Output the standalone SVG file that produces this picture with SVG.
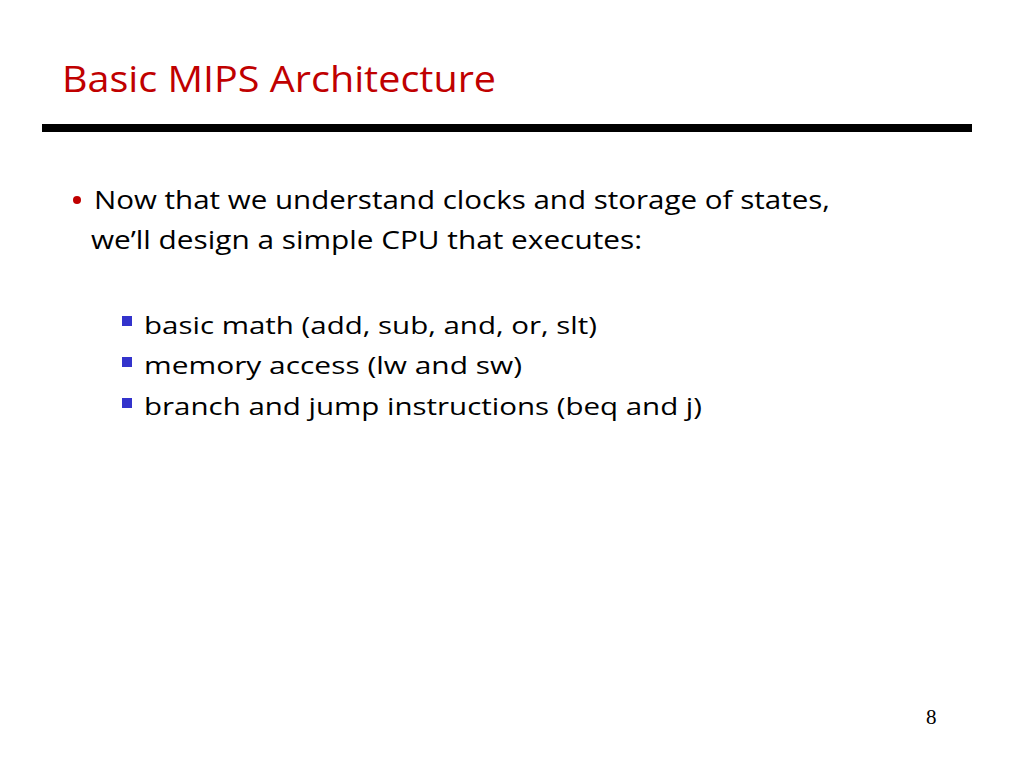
<svg xmlns="http://www.w3.org/2000/svg" width="1024" height="768" viewBox="0 0 1024 768">
<style>
.t{font-family:"Open Sans","Liberation Sans",sans-serif;fill:#000}
.title{font-size:36px;fill:#C00000}
.b1{font-size:25.5px}
.b2{font-size:23px}
.sq{fill:#3333CC}
</style>
<rect width="1024" height="768" fill="#fff"/>
<g id="title">
<text class="t title" x="62" y="92" textLength="434" lengthAdjust="spacingAndGlyphs">Basic MIPS Architecture</text>
</g>
<rect id="rule" x="42" y="124" width="930" height="8" fill="#000"/>
<g id="bullet1">
<circle cx="77" cy="200" r="4" fill="#C00000"/>
<text class="t b1" x="94" y="209" textLength="736" lengthAdjust="spacingAndGlyphs">Now that we understand clocks and storage of states,</text>
<text class="t b1" x="91" y="249" textLength="551" lengthAdjust="spacingAndGlyphs">we’ll design a simple CPU that executes:</text>
</g>
<g id="sub1">
<rect class="sq" x="122" y="316" width="10" height="10"/>
<text class="t b2" x="144" y="334" textLength="453" lengthAdjust="spacingAndGlyphs">basic math (add, sub, and, or, slt)</text>
</g>
<g id="sub2">
<rect class="sq" x="122" y="357" width="10" height="10"/>
<text class="t b2" x="144" y="374" textLength="378" lengthAdjust="spacingAndGlyphs">memory access (lw and sw)</text>
</g>
<g id="sub3">
<rect class="sq" x="122" y="398" width="10" height="10"/>
<text class="t b2" x="144" y="415" textLength="558" lengthAdjust="spacingAndGlyphs">branch and jump instructions (beq and j)</text>
</g>
<text id="page" x="926" y="724" font-family="Liberation Serif,serif" font-size="21" fill="#000">8</text>
</svg>
